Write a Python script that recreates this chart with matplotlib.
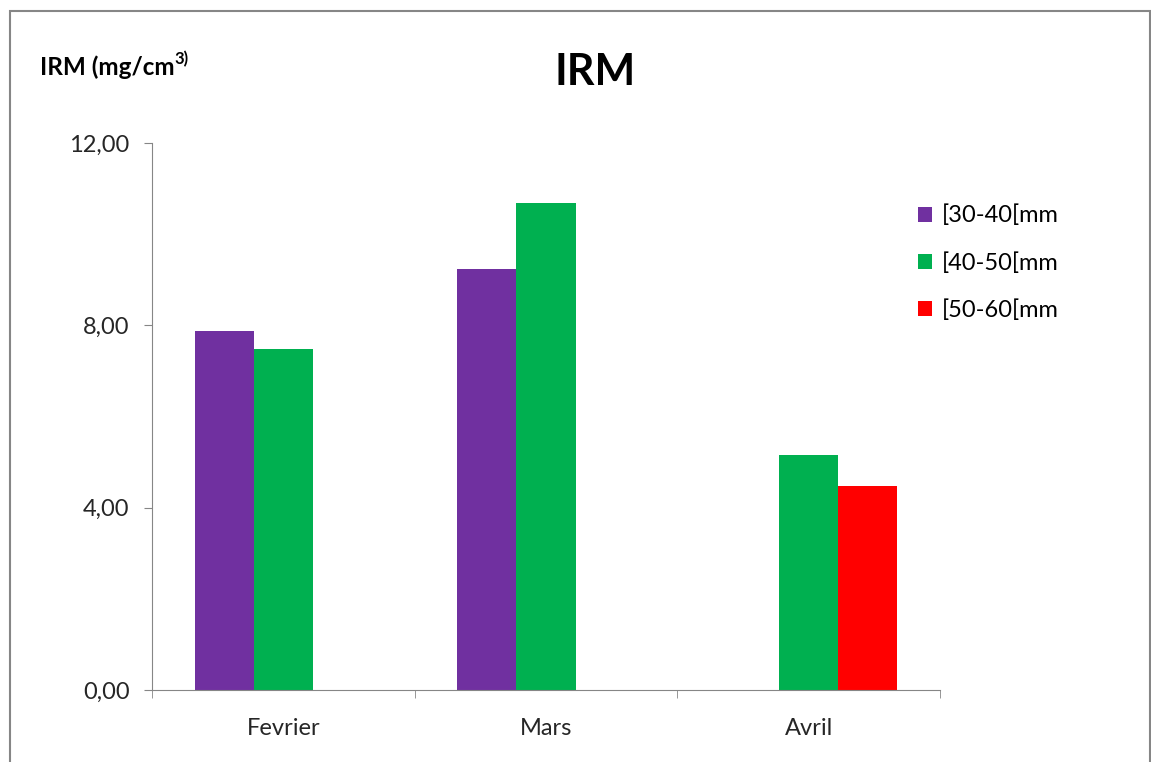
import numpy as np
import matplotlib.pyplot as plt
from matplotlib.patches import Rectangle

# data
months = ['Fevrier', 'Mars', 'Avril']
series = ['[30-40[mm', '[40-50[mm', '[50-60[mm']
v_30_40 = [7.88, 9.24, np.nan]
v_40_50 = [7.48, 10.68, 5.16]
v_50_60 = [np.nan, np.nan, 4.48]
colors = ['#7030A0', '#00B050', '#FF0000']
yticks = [0, 4, 8, 12]

plt.rcParams['font.family'] = ['Lato', 'DejaVu Sans']

fig = plt.figure(figsize=(11.51, 7.62), dpi=100)
ax = fig.add_axes([0.132, 0.0945, 0.6847, 0.7178])

# outer frame of the chart area
fig.patches.append(Rectangle((0.009, -0.01), 0.99, 0.995, transform=fig.transFigure,
                             fill=False, edgecolor='#868686', linewidth=1.5))

x = np.arange(len(months))
w = 0.225
for i, (vals, c, lab) in enumerate(zip([v_30_40, v_40_50, v_50_60], colors, series)):
    ax.bar(x + (i - 1) * w, vals, width=w, color=c, label=lab)

ax.set_xlim(-0.5, 2.5)
ax.set_ylim(0, 12)
ax.set_yticks(yticks)
ax.set_yticklabels([('%.2f' % t).replace('.', ',') for t in yticks])
ax.set_xticks(x)
ax.set_xticklabels(months)
ax.set_xticks([-0.5, 0.5, 1.5, 2.5], minor=True)
ax.tick_params(axis='x', which='major', length=0, pad=20, labelsize=17, colors='#262626')
ax.tick_params(axis='x', which='minor', length=6, color='#868686')
ax.tick_params(axis='y', length=6, color='#868686', labelsize=17, labelcolor='#262626', pad=10)

for s in ['top', 'right']:
    ax.spines[s].set_visible(False)
for s in ['left', 'bottom']:
    ax.spines[s].set_color('#868686')

fig.text(0.517, 0.905, 'IRM', fontsize=31, fontweight='bold', ha='center', va='center')
t = fig.text(0.035, 0.912, 'IRM (mg/cm', fontsize=17.5, fontweight='bold', ha='left', va='center')
ax.annotate('3)', xy=(1, 0.5), xycoords=t, fontsize=12, fontweight='bold', va='bottom', ha='left')

ax.legend(loc='upper left', bbox_to_anchor=(0.945, 0.926), frameon=False, fontsize=17,
          handlelength=0.6, handleheight=0.6, handletextpad=0.4, labelspacing=1.08)

fig.savefig('out.png', dpi=100)
